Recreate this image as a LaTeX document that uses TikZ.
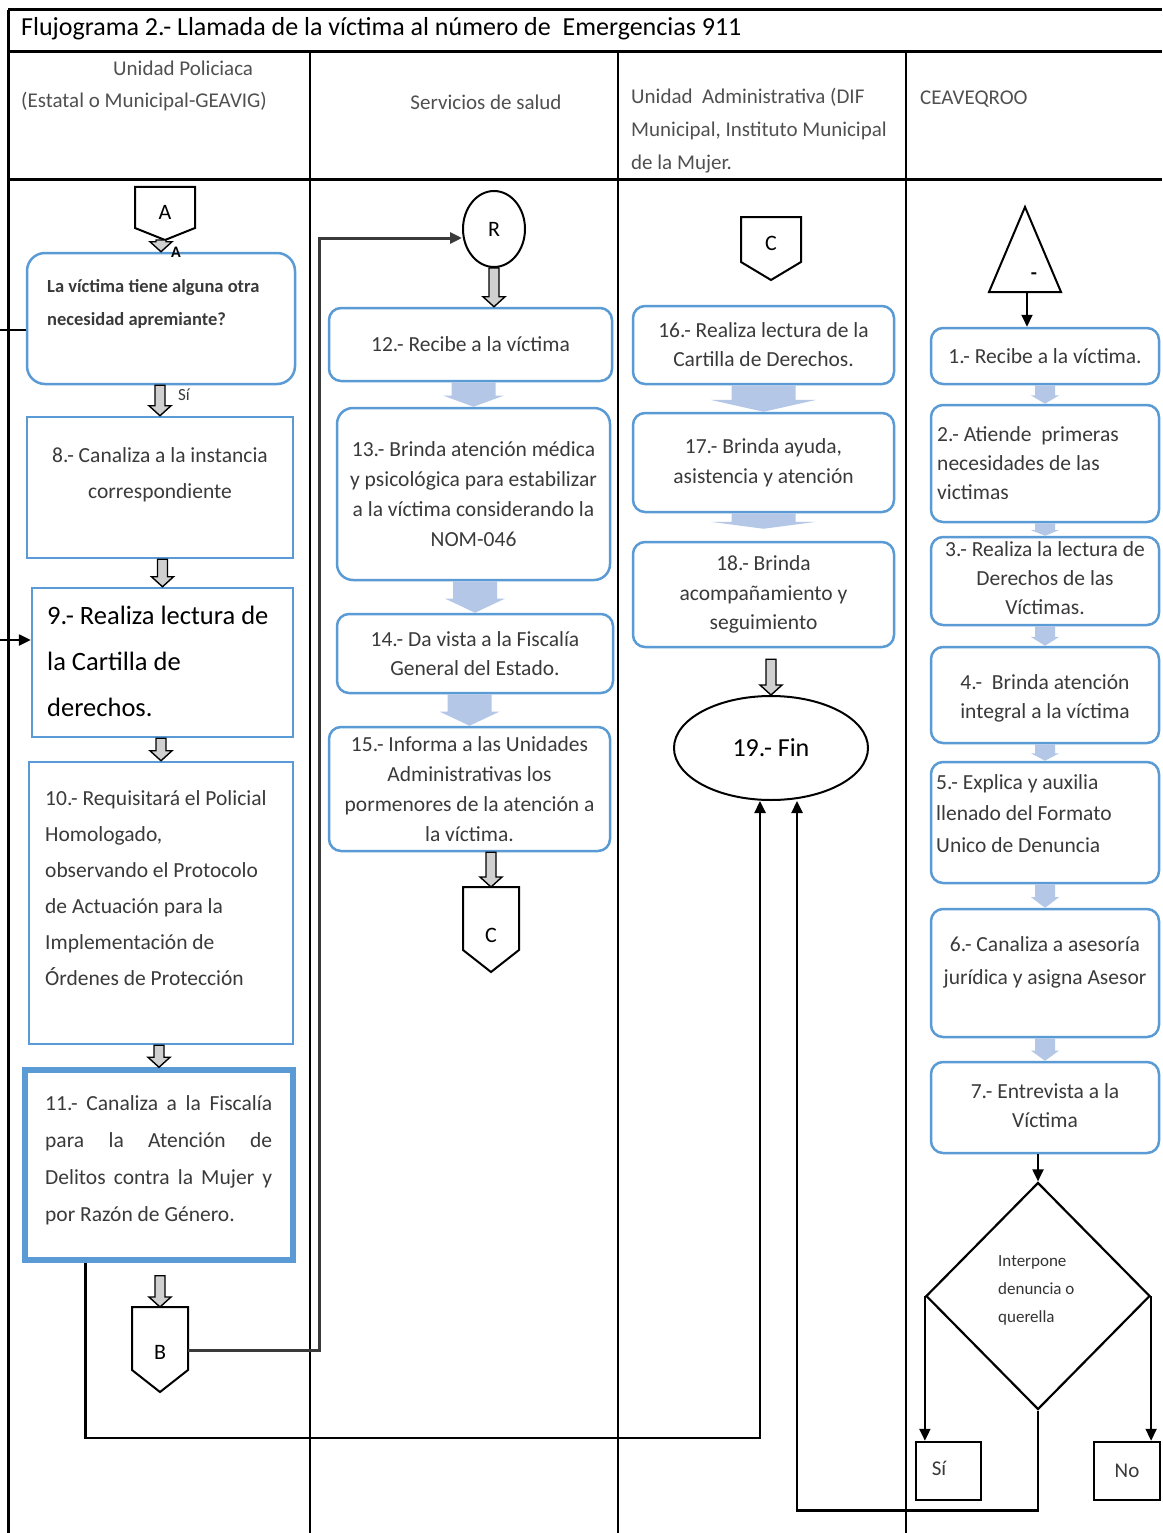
\documentclass[tikz,border=0pt]{standalone}
\usepackage{fontspec}
\setmainfont{Carlito}
\usetikzlibrary{calc,arrows.meta,shapes.geometric}
\definecolor{boxblue}{HTML}{5B9BD5}
\definecolor{lightarr}{HTML}{B4C7E7}
\definecolor{txt}{HTML}{3A3A3A}
\definecolor{hdrtxt}{HTML}{505050}
\definecolor{arrfill}{HTML}{D0D0D0}
\definecolor{conngray}{HTML}{3A3A3A}
\newcommand{\fs}[2]{\fontsize{#1}{#2}\selectfont}
% hollow block arrow (vertical) from #1 to #2
\newcommand{\blk}[2]{%
  \path (#2 |- #1) coordinate (bs) (#2) coordinate (be);
  \filldraw[fill=arrfill,draw=black,line width=1.4,line join=miter]
   ($(bs)+(-5,0)$) -- ($(be)+(-5,-10)$) -- ($(be)+(-11,-10)$) -- (be) --
   ($(be)+(11,-10)$) -- ($(be)+(5,-10)$) -- ($(bs)+(5,0)$) -- cycle;}
% light blue arrow from #1 to #2, shaft half width #3, head half width #4
\newcommand{\lba}[4]{%
  \path (#2 |- #1) coordinate (ls) (#2) coordinate (le);
  \fill[lightarr] ($(ls)+(-#3,0)$) -- ($(ls)+(#3,0)$) -- ($(ls)!0.55!(le)+(#3,0)$) --
   ($(ls)!0.55!(le)+(#4,0)$) -- (le) -- ($(ls)!0.55!(le)+(-#4,0)$) --
   ($(ls)!0.55!(le)+(-#3,0)$) -- cycle;}
% off-page connector: name, cx, top, half width, body height, tip height, letter, letter offset
\newcommand{\offp}[8]{%
  \draw[line width=2,line join=miter] (#2-#4,#3) -- (#2+#4,#3) -- (#2+#4,#3+#5) --
    (#2,#3+#5+#6) -- (#2-#4,#3+#5) -- cycle;
  \coordinate (#1-tip) at (#2,#3+#5+#6);
  \coordinate (#1-n) at (#2,#3);
  \coordinate (#1-e) at (#2+#4,#3+#8-2);
  \node[font=\fs{22}{26},inner sep=0] (#1) at (#2,#3+#8) {#7};}
\tikzset{
  frame/.style={draw=black,line width=3},
  colline/.style={draw=black,line width=2.6},
  rbox/.style={draw=boxblue,line width=2.5,rounded corners=12,inner sep=0},
  sbox/.style={draw=boxblue,line width=2.5,inner sep=0},
  btxt/.style={text=txt,font=\fs{21.5}{29.5},align=center,inner sep=0},
  hdr/.style={text=hdrtxt,font=\fs{21}{32},inner sep=0},
  conn/.style={draw=black,line width=2.5},
  arrowend/.style={-{Triangle[length=12pt,width=11pt]}},
}
\begin{document}
\begin{tikzpicture}[x=1pt,y=-1pt]
\useasboundingbox (0,0) rectangle (1162,1533);
\fill[white] (0,0) rectangle (1162,1533);

% ---------- frame ----------
\draw[frame] (8,10) -- (1162,10);
\draw[frame] (8,52) -- (1162,52);
\draw[frame] (8,180) -- (1162,180);
\draw[frame] (8,10) -- (8,1533);
\draw[colline] (310,52) -- (310,1533);
\draw[colline] (618,52) -- (618,1533);
\draw[colline] (906,52) -- (906,1533);

% ---------- title and headers ----------
\node[anchor=west,font=\fs{26}{30},inner sep=0] (title) at (21,29)
  {Flujograma 2.- Llamada de la víctima al número de\ \ Emergencias 911};
\node[hdr,anchor=west,align=left] (h1) at (21,86)
  {\hspace*{92pt}Unidad Policiaca\\(Estatal o Municipal-GEAVIG)};
\node[hdr] (h2) at (486,102) {Servicios de salud};
\node[hdr,anchor=west,align=left,font=\fs{21}{33}] (h3) at (631,131)
  {Unidad\ \ Administrativa (DIF\\Municipal, Instituto Municipal\\de la Mujer.};
\node[hdr,anchor=west] (h4) at (920,99) {CEAVEQROO};

% ---------- column 1 ----------
\offp{pA}{165}{187}{30}{41}{12}{A}{25}
\node[rbox,rounded corners=18,minimum width=268,minimum height=131] (q) at (161,318.5) {};
\node[anchor=west,align=left,text=txt,font=\bfseries\fs{18.5}{33},inner sep=0] (tq) at (47,303.5)
  {La víctima tiene alguna otra\\necesidad apremiante?};
\node[sbox,minimum width=266,minimum height=141] (b8) at (160,487.5) {};
\node[btxt,font=\fs{21.5}{36}] (t8) at (160,475) {8.- Canaliza a la instancia\\correspondiente};
\node[sbox,minimum width=261,minimum height=149] (b9) at (162.5,662.5) {};
\node[anchor=west,align=left,font=\fs{26.5}{46},inner sep=0] (t9) at (47,661.5)
  {9.- Realiza lectura de\\la Cartilla de\\derechos.};
\node[sbox,minimum width=264,minimum height=282] (b10) at (161,903) {};
\node[btxt,anchor=west,align=left,font=\fs{21.5}{36}] (t10) at (45,888)
  {10.- Requisitará el Policial\\Homologado,\\observando el Protocolo\\de Actuación para la\\Implementación de\\Órdenes de Protección};
\node[sbox,line width=5.5,minimum width=268,minimum height=190] (b11) at (159,1165) {};
\node[btxt,anchor=west,align=left,font=\fs{21.5}{37}] (t11) at (45,1160)
  {\makebox[227pt][s]{11.- Canaliza a la Fiscalía}\\\makebox[227pt][s]{para la Atención de}\\\makebox[227pt][s]{Delitos contra la Mujer y}\\por Razón de Género.};
\offp{pB}{160}{1307}{28}{63}{22}{B}{45}

\blk{pA-tip}{q.north}
\node[font=\bfseries\fs{16}{18},inner sep=0] (lblA) at (176,252) {A};
\blk{q.south}{b8.north}
\node[text=txt,font=\fs{17}{18},inner sep=0] (lblsi) at (184,395) {Sí};
\blk{b8.south}{b9.north}
\blk{b9.south}{b10.north}
\blk{b10.south}{b11.north}
\coordinate (b11x) at ($(b11.south)+(5,13)$);
\blk{b11x}{pB-n}

% lines from the left edge
\coordinate (L1) at (0,330);
\coordinate (L2) at (0,640);
\draw[conn] (L1) -- (L1 -| q.west);
\draw[conn,arrowend] (L2) -- (L2 -| b9.west);

% ---------- column 2 ----------
\node[draw,ellipse,line width=2,minimum width=62,minimum height=76,inner sep=0,font=\fs{22}{26}] (R) at (494,229) {R};
\node[rbox,minimum width=283,minimum height=73] (b12) at (470.5,344.5) {};
\node[btxt] at (b12.center) {12.- Recibe a la víctima};
\node[rbox,rounded corners=16,minimum width=273,minimum height=172] (b13) at (473.5,494) {};
\node[btxt,font=\fs{21.5}{30}] at (b13.center) {13.- Brinda atención médica\\y psicológica para estabilizar\\a la víctima considerando la\\NOM-046};
\node[rbox,minimum width=276,minimum height=79] (b14) at (475,653.5) {};
\node[btxt,font=\fs{21.5}{29}] at (b14.center) {14.- Da vista a la Fiscalía\\General del Estado.};
\node[rbox,minimum width=281,minimum height=124] (b15) at (469.5,789) {};
\node[btxt,font=\fs{21.5}{30}] at (b15.center) {15.- Informa a las Unidades\\Administrativas los\\pormenores de la atención a\\la víctima.};
\offp{pC}{491}{887}{28}{63}{22}{C}{48}

\coordinate (r12) at (R.south |- b12.north);
\blk{R.south}{r12}
\lba{b12.south}{b13.north}{22}{30}
\lba{b13.south}{b14.north}{22}{30}
\lba{b14.south}{b15.north}{22}{30}
\blk{b15.south}{pC-n}

% ---------- column 3 ----------
\offp{pC3}{771}{217}{30}{45}{18}{C}{26}
\node[rbox,minimum width=261,minimum height=78] (b16) at (763.5,345) {};
\node[btxt,font=\fs{21.5}{29}] at (b16.center) {16.- Realiza lectura de la\\Cartilla de Derechos.};
\node[rbox,minimum width=261,minimum height=99] (b17) at (763.5,462.5) {};
\node[btxt,font=\fs{21.5}{30}] at (b17.center) {17.- Brinda ayuda,\\asistencia y atención};
\node[rbox,minimum width=261,minimum height=105] (b18) at (763.5,594.5) {};
\node[btxt,font=\fs{21.5}{29.5}] at (b18.center) {18.- Brinda\\acompañamiento y\\seguimiento};
\node[draw,ellipse,line width=2,minimum width=194,minimum height=104,inner sep=0,font=\fs{26}{30}] (fin) at (771,748) {19.- Fin};

\lba{b16.south}{b17.north}{32}{53}
\coordinate (b18t) at ($(b18.north)+(0,-12)$);
\lba{b17.south}{b18t}{32}{53}
\coordinate (b18x) at ($(b18.south)+(8,11)$);
\blk{b18x}{fin.north}

% ---------- column 4 ----------
\draw[line width=2,line join=miter] (1025,207) -- (1061,292) -- (989,292) -- cycle;
\coordinate (tri-b) at (1027,292);
\node[font=\bfseries\fs{20}{22},inner sep=0] (trim) at (1034,276) {-};
\node[rbox,minimum width=228,minimum height=56] (c1) at (1045,356) {};
\node[btxt] at (c1.center) {1.- Recibe a la víctima.};
\node[rbox,minimum width=228,minimum height=117] (c2) at (1045,463.5) {};
\node[btxt,anchor=west,align=left,font=\fs{21.5}{29}] at (937,463) {2.- Atiende\ \ primeras\\necesidades de las\\victimas};
\node[rbox,minimum width=228,minimum height=88] (c3) at (1045,581) {};
\node[btxt,font=\fs{21.5}{29}] at (1045,578) {3.- Realiza la lectura de\\Derechos de las\\Víctimas.};
\node[rbox,minimum width=228,minimum height=96] (c4) at (1045,695) {};
\node[btxt,font=\fs{21.5}{29}] at (1045,698.5) {4.-\ \ Brinda atención\\integral a la víctima};
\node[rbox,minimum width=228,minimum height=121] (c5) at (1045,822.5) {};
\node[btxt,anchor=west,align=left,font=\fs{21.5}{31.5}] at (936,813.5) {5.- Explica y auxilia\\llenado del Formato\\Unico de Denuncia};
\node[rbox,minimum width=228,minimum height=128] (c6) at (1045,973) {};
\node[btxt,font=\fs{21.5}{33}] at (1045,962.5) {6.- Canaliza a asesoría\\jurídica y asigna Asesor};
\node[rbox,minimum width=228,minimum height=91] (c7) at (1045,1107.5) {};
\node[btxt,font=\fs{21.5}{29}] at (1045,1105.5) {7.- Entrevista a la\\Víctima};
\node[draw,diamond,line width=2.2,minimum width=224,minimum height=227,inner sep=0] (d) at (1038,1296) {};
\node[anchor=west,align=left,text=black!80,font=\fs{17}{28},inner sep=0] (dt) at (998,1290) {Interpone\\denuncia o\\querella};
\node[draw,line width=2.5,minimum width=65,minimum height=58,inner sep=0] (si) at (948.5,1471) {};
\node[text=txt,font=\fs{21}{24},inner sep=0] (tsi) at (939,1468) {Sí};
\node[draw,line width=2.5,minimum width=66,minimum height=58,inner sep=0,text=txt,font=\fs{21}{24}] (no) at (1127,1471) {No};

\draw[conn,line width=2,arrowend] (tri-b) -- (tri-b |- c1.north);
\lba{c1.south}{c2.north}{10}{14}
\lba{c2.south}{c3.north}{10}{14}
\lba{c3.south}{c4.north}{10}{14}
\lba{c4.south}{c5.north}{10}{14}
\lba{c5.south}{c6.north}{10}{14}
\lba{c6.south}{c7.north}{10}{14}
\draw[conn,line width=2,arrowend] (d.north |- c7.south) -- (d.north);
\draw[conn,line width=2,arrowend] (d.west) -- (d.west |- si.north);
\draw[conn,line width=2,arrowend] (d.east) -- (d.east |- no.north);

% ---------- long connectors ----------
\draw[conngray,line width=3,arrowend] (pB-e) -- ++(131,0) |- ($(R.west)+(0,9)$);
\draw[conn,arrowend] ($(b11.south west)+(63,0)$) -- ++(0,175) -| ($(fin.south)+(-11,0)$);
\draw[conn,arrowend] (d.south) -- ++(0,100) -| ($(fin.south)+(26,0)$);
\end{tikzpicture}
\end{document}
